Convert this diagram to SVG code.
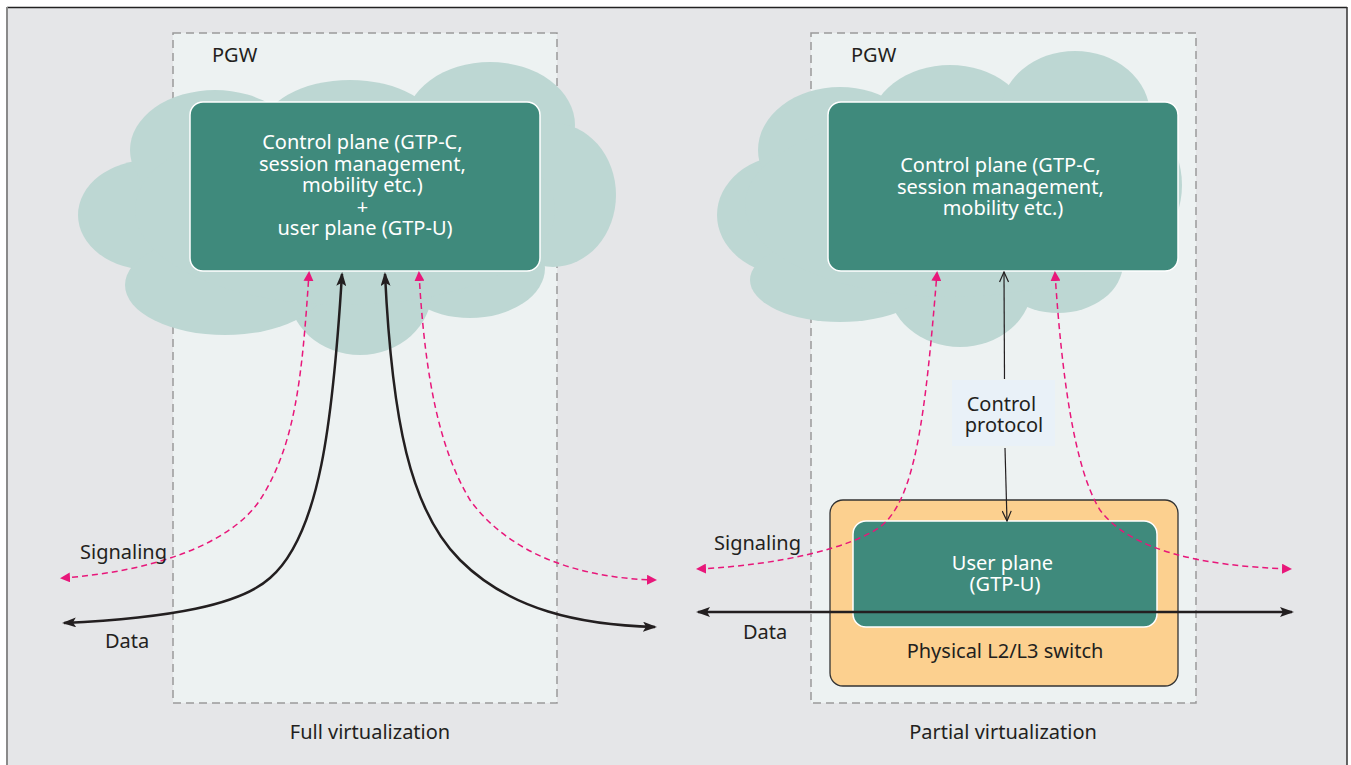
<svg xmlns="http://www.w3.org/2000/svg" width="1351" height="765" viewBox="0 0 1351 765">
  <style>
    .frame { fill: #e5e6e8; }
    .pgw { fill: #edf2f2; stroke: #9a9a9a; stroke-width: 1.5; stroke-dasharray: 8 5; }
    .cloud { fill: #bdd7d3; }
    .plane { fill: #3f8a7c; stroke: #ffffff; stroke-width: 1.5; }
    .switch { fill: #fcd08f; stroke: #333333; stroke-width: 1.3; }
    .ctl-box { fill: #e9f1f8; }
    .txt { font-family: "Noto Sans", "Open Sans", sans-serif; font-size: 20px; fill: #231f20; }
    .wtxt { font-family: "Noto Sans", "Open Sans", sans-serif; font-size: 20px; fill: #ffffff; text-anchor: middle; }
    .mid { text-anchor: middle; }
    .data { fill: none; stroke: #231f20; stroke-width: 2.5; marker-start: url(#arrowData); marker-end: url(#arrowData); }
    .sig { fill: none; stroke: #e8177a; stroke-width: 1.5; stroke-dasharray: 6 4; marker-start: url(#arrowSig); marker-end: url(#arrowSig); }
    .ctl { fill: none; stroke: #231f20; stroke-width: 1.2; }
  </style>
  <defs>
    <marker id="arrowData" viewBox="0 0 14 10" refX="12" refY="5" markerWidth="14" markerHeight="10" markerUnits="userSpaceOnUse" orient="auto-start-reverse">
      <path d="M0,0 L14,5 L0,10 L3,5 Z" fill="#231f20"/>
    </marker>
    <marker id="arrowSig" viewBox="0 0 10 10" refX="8" refY="5" markerWidth="10" markerHeight="10" markerUnits="userSpaceOnUse" orient="auto-start-reverse">
      <path d="M0,0 L10,5 L0,10 Z" fill="#e8177a"/>
    </marker>
    <marker id="arrowOpen" viewBox="0 0 12 10" refX="11" refY="5" markerWidth="12" markerHeight="10" markerUnits="userSpaceOnUse" orient="auto">
      <path d="M1,0.5 L11,5 L1,9.5" fill="none" stroke="#231f20" stroke-width="1.2"/>
    </marker>
  </defs>

  <!-- outer frame -->
  <rect class="frame" x="7" y="7" width="1340" height="758"/>
  <line x1="7" y1="7.5" x2="1347" y2="7.5" stroke="#222" stroke-width="1.5"/>
  <line x1="7" y1="7" x2="7" y2="765" stroke="#8a8a8a" stroke-width="2"/>
  <line x1="1347" y1="7" x2="1347" y2="765" stroke="#333" stroke-width="1.5"/>

  <!-- Full virtualization -->
  <g id="pgw-full">
    <rect class="pgw" x="173" y="33" width="384" height="670"/>
    <text class="txt" x="212" y="62">PGW</text>
  </g>
  <g id="cloud-full" class="cloud">
    <ellipse cx="150" cy="215" rx="72" ry="55"/>
    <ellipse cx="215" cy="150" rx="85" ry="60"/>
    <ellipse cx="350" cy="130" rx="88" ry="50"/>
    <ellipse cx="490" cy="125" rx="85" ry="63"/>
    <ellipse cx="553" cy="195" rx="63" ry="72"/>
    <ellipse cx="470" cy="268" rx="75" ry="50"/>
    <ellipse cx="360" cy="290" rx="72" ry="65"/>
    <ellipse cx="225" cy="285" rx="100" ry="50"/>
    <ellipse cx="345" cy="210" rx="210" ry="95"/>
  </g>
  <g id="node-full-plane">
    <rect class="plane" x="190" y="102" width="350" height="169" rx="13"/>
    <text class="wtxt">
      <tspan x="365" y="149">Control plane (GTP-C,</tspan>
      <tspan x="365" y="170.5">session management,</tspan>
      <tspan x="365" y="192">mobility etc.)</tspan>
      <tspan x="365" y="213.5">+</tspan>
      <tspan x="365" y="235">user plane (GTP-U)</tspan>
    </text>
  </g>

  <!-- Partial virtualization -->
  <g id="pgw-partial">
    <rect class="pgw" x="811" y="33" width="385" height="670"/>
    <text class="txt" x="851" y="62">PGW</text>
  </g>
  <g id="cloud-partial" class="cloud">
    <ellipse cx="790" cy="215" rx="73" ry="60"/>
    <ellipse cx="840" cy="150" rx="82" ry="63"/>
    <ellipse cx="950" cy="127" rx="80" ry="62"/>
    <ellipse cx="1075" cy="115" rx="75" ry="64"/>
    <ellipse cx="1110" cy="185" rx="72" ry="80"/>
    <ellipse cx="1058" cy="263" rx="65" ry="50"/>
    <ellipse cx="960" cy="285" rx="72" ry="62"/>
    <ellipse cx="840" cy="280" rx="90" ry="42"/>
    <ellipse cx="950" cy="205" rx="205" ry="92"/>
  </g>
  <g id="node-partial-control">
    <rect class="plane" x="828" y="102" width="350" height="169" rx="13"/>
    <text class="wtxt">
      <tspan x="1003" y="172">Control plane (GTP-C,</tspan>
      <tspan x="1003" y="193.5">session management,</tspan>
      <tspan x="1003" y="215">mobility etc.)</tspan>
    </text>
  </g>
  <g id="node-switch">
    <rect class="switch" x="830" y="500" width="348" height="186" rx="13"/>
    <text class="txt mid" x="1005" y="658">Physical L2/L3 switch</text>
  </g>
  <g id="node-user-plane">
    <rect class="plane" x="853" y="521" width="304" height="106" rx="13"/>
    <text class="wtxt">
      <tspan x="1005" y="570">User plane</tspan>
      <tspan x="1005" y="591">(GTP-U)</tspan>
    </text>
  </g>
  <g id="label-control-protocol">
    <rect class="ctl-box" x="952" y="380" width="103" height="66"/>
    <text class="txt mid">
      <tspan x="1004" y="411">Control</tspan>
      <tspan x="1004" y="432">protocol</tspan>
    </text>
  </g>

  <!-- connectors -->
  <g id="connectors">
    <!-- full virtualization: data -->
    <path class="data" d="M64,623 C170,618 240,605 270,578 C320,535 333,420 342,274"/>
    <path class="data" d="M385,274 C392,420 410,510 460,560 C510,610 580,625 655,627"/>
    <!-- full virtualization: signaling -->
    <path class="sig" d="M62,578 C150,572 230,545 260,500 C295,445 302,380 309,273"/>
    <path class="sig" d="M419,273 C425,380 440,450 470,500 C510,555 580,578 655,580"/>
    <!-- partial virtualization: signaling -->
    <path class="sig" d="M698,569 C780,565 850,548 880,527 C915,500 925,420 937,273"/>
    <path class="sig" d="M1055,273 C1062,380 1075,470 1100,510 C1130,550 1200,566 1290,569"/>
    <!-- partial virtualization: data through switch -->
    <path class="data" d="M698,612 L1292,612"/>
    <!-- control protocol -->
    <path class="ctl" d="M1004.5,379 L1004,272" marker-end="url(#arrowOpen)"/>
    <path class="ctl" d="M1005,448 L1007,521" marker-end="url(#arrowOpen)"/>
  </g>

  <!-- side and caption labels -->
  <g id="labels">
    <text class="txt" x="80" y="559">Signaling</text>
    <text class="txt" x="105" y="648">Data</text>
    <text class="txt" x="714" y="550">Signaling</text>
    <text class="txt" x="743" y="639">Data</text>
    <text class="txt mid" x="370" y="739">Full virtualization</text>
    <text class="txt mid" x="1003" y="739">Partial virtualization</text>
  </g>
</svg>
